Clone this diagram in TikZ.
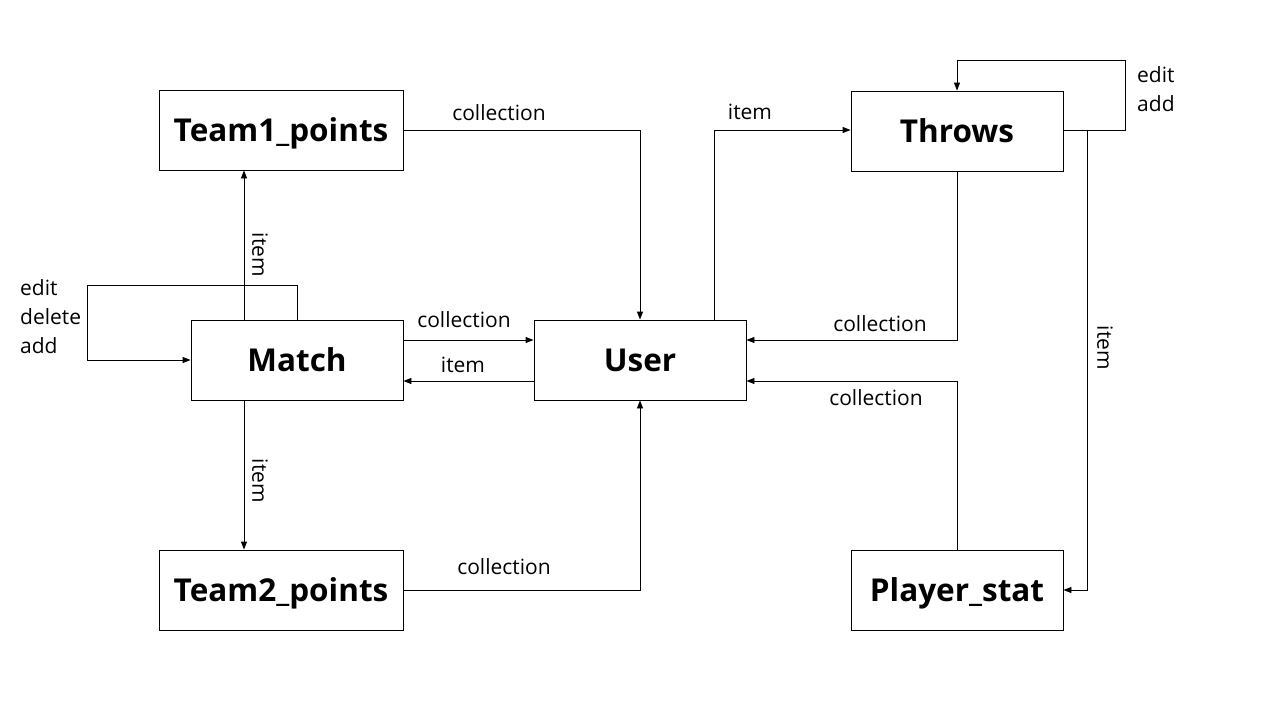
\documentclass[tikz,border=0pt]{standalone}
\usepackage{fontspec}
\setmainfont{Open Sans}
\usetikzlibrary{arrows.meta}
\begin{document}
\begin{tikzpicture}[x=1pt,y=-1pt,
  box/.style={draw, line width=0.9pt, rectangle, inner sep=0pt, minimum height=80pt, text height=22pt, text depth=0pt, font=\fontsize{31.5}{34}\selectfont\bfseries},
  wide/.style={box, minimum width=244pt},
  narrow/.style={box, minimum width=212pt},
  conn/.style={line width=0.9pt, -{Triangle[length=8pt,width=6pt]}},
  lbl/.style={font=\fontsize{21}{24}\selectfont, inner sep=0pt},
  vlbl/.style={lbl, rotate=-90}]
\useasboundingbox (0,0) rectangle (1280,720);
\fill[white] (0,0) rectangle (1280,720);

\node[wide] (t1) at (281,130) {Team1\_points};
\node[narrow] (m) at (297,360) {Match};
\node[wide] (t2) at (281,590) {Team2\_points};
\node[narrow] (u) at (640,360) {User};
\node[narrow] (th) at (957,131) {Throws};
\node[narrow] (ps) at (957,590) {Player\_stat};

% Team1 -> User
\draw[conn] (t1.east |- 0,130) -| (u.north);
\node[lbl] at (499,113) {collection};

% Match -> Team1
\draw[conn] (m.north -| 244,0) -- (t1.south -| 244,0);
\node[vlbl] at (260,255) {item};

% Match self loop
\coordinate (ml1) at (297,285);
\coordinate (ml2) at (87,285);
\draw[conn] (m.north -| 297,0) -- (ml1) -- (ml2) |- (m.west);
\node[lbl, anchor=west] at (20,288) {edit};
\node[lbl, anchor=west] at (20,317) {delete};
\node[lbl, anchor=west] at (20,346) {add};

% Match <-> User
\draw[conn] (m.east |- 0,340) -- (u.west |- 0,340);
\node[lbl] at (464,320) {collection};
\draw[conn] (u.west |- 0,381) -- (m.east |- 0,381);
\node[lbl] at (463,365) {item};

% Match -> Team2
\draw[conn] (m.south -| 244,0) -- (t2.north -| 244,0);
\node[vlbl] at (260,481) {item};

% Team2 -> User
\draw[conn] (t2.east) -| (u.south);
\node[lbl] at (504,567) {collection};

% User -> Throws
\draw[conn] (u.north -| 714,0) |- (th.west |- 0,130);
\node[lbl] at (750,112) {item};

% Throws self loop
\coordinate (tl1) at (1125,130);
\coordinate (tl2) at (1125,60);
\draw[conn] (th.east |- 0,130) -- (tl1) -- (tl2) -| (th.north);
\node[lbl, anchor=west] at (1137,75) {edit};
\node[lbl, anchor=west] at (1137,104) {add};

% Throws -> User
\draw[conn] (th.south) |- (u.east |- 0,340);
\node[lbl] at (880,324) {collection};

% Throws -> Player_stat
\coordinate (tp) at (1087,130);
\draw[conn] (tp) |- (ps.east);
\node[vlbl] at (1105,348) {item};

% Player_stat -> User
\draw[conn] (ps.north) |- (u.east |- 0,381);
\node[lbl] at (876,398) {collection};
\end{tikzpicture}
\end{document}
